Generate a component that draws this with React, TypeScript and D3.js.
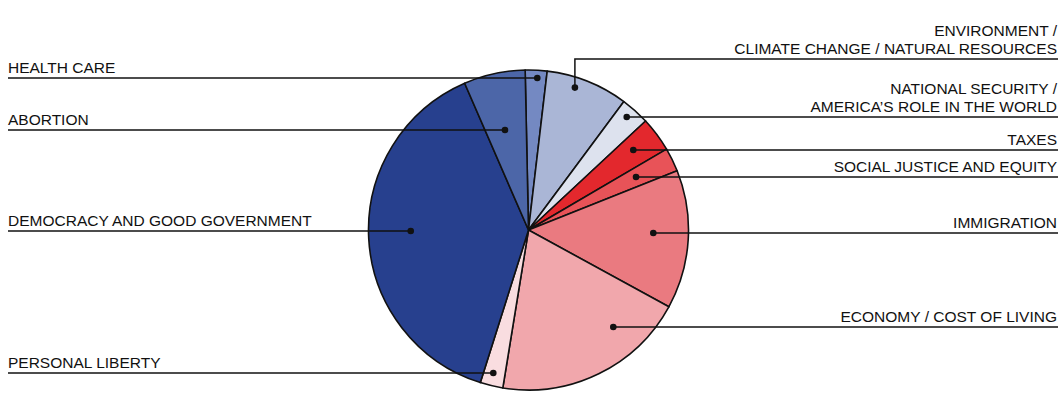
import React from "react";
import * as d3 from "d3";

const categories = [
  "HEALTH CARE",
  "ENVIRONMENT / CLIMATE CHANGE / NATURAL RESOURCES",
  "NATIONAL SECURITY / AMERICA’S ROLE IN THE WORLD",
  "TAXES",
  "SOCIAL JUSTICE AND EQUITY",
  "IMMIGRATION",
  "ECONOMY / COST OF LIVING",
  "PERSONAL LIBERTY",
  "DEMOCRACY AND GOOD GOVERNMENT",
  "ABORTION",
];
const values = [2.2, 8.3, 2.9, 3.5, 2.4, 14.0, 19.6, 2.3, 38.6, 6.2];
const colors = [
  "#7489c2",
  "#aab6d6",
  "#dde2ee",
  "#e3282d",
  "#e85358",
  "#ea7a80",
  "#f1a7ac",
  "#f9dde0",
  "#27408e",
  "#4c66a8",
];
const labelLines: string[][] = [
  ["HEALTH CARE"],
  ["ENVIRONMENT /", "CLIMATE CHANGE / NATURAL RESOURCES"],
  ["NATIONAL SECURITY /", "AMERICA’S ROLE IN THE WORLD"],
  ["TAXES"],
  ["SOCIAL JUSTICE AND EQUITY"],
  ["IMMIGRATION"],
  ["ECONOMY / COST OF LIVING"],
  ["PERSONAL LIBERTY"],
  ["DEMOCRACY AND GOOD GOVERNMENT"],
  ["ABORTION"],
];

// layout of the leaders (not data)
const labelSide = ["left", "right", "right", "right", "right", "right", "right", "left", "left", "left"];
const leaderY = [78, 59, 117, 150, 177, 233, 327, 373, 231, 130];
const dotXFrac = [0.055, 0.29, 0.614, 0.655, 0.672, 0.78, 0.53, -0.22, -0.736, -0.147];
const dotYFrac = [null, -0.89, null, null, null, null, null, null, null, null];

export default function App() {
  const W = 1063;
  const H = 417;
  const cx = 528.5;
  const cy = 230;
  const R = 160;
  const startAngle = (-1.2 * Math.PI) / 180;

  const pie = d3
    .pie<number>()
    .sort(null)
    .value((d) => d)
    .startAngle(startAngle)
    .endAngle(startAngle + 2 * Math.PI);
  const arcs = pie(values);
  const arcGen = d3.arc<d3.PieArcDatum<number>>().innerRadius(0).outerRadius(R);

  const font = "'Liberation Sans', Arial, Helvetica, sans-serif";

  return (
    <svg width={W} height={H} style={{ position: "absolute", left: 0, top: 0, background: "#fff" }}>
      <g transform={`translate(${cx},${cy})`}>
        {arcs.map((a, i) => (
          <path key={i} d={arcGen(a) || ""} fill={colors[i]} stroke="#111" strokeWidth={1.6} strokeLinejoin="round" />
        ))}
      </g>
      {arcs.map((a, i) => {
        const ly = leaderY[i];
        const side = labelSide[i];
        const lines = labelLines[i];
        const dx = cx + R * dotXFrac[i];
        const yf = dotYFrac[i];
        const dy = yf == null ? ly : cy + R * yf;
        let path: string;
        if (yf != null) {
          path = `M${dx},${dy}V${ly}H1058`;
        } else {
          path = side === "left" ? `M8,${ly}H${dx}` : `M${dx},${ly}H1058`;
        }
        const n = lines.length;
        return (
          <g key={i}>
            <path d={path} fill="none" stroke="#111" strokeWidth={1.5} />
            <circle cx={dx} cy={dy} r={3.3} fill="#111" />
            {lines.map((t, j) => (
              <text
                key={j}
                x={side === "left" ? 8 : 1057}
                y={ly - 5 - (n - 1 - j) * 18}
                textAnchor={side === "left" ? "start" : "end"}
                fontFamily={font}
                fontSize={15.5}
                fill="#111"
              >
                {t}
              </text>
            ))}
          </g>
        );
      })}
    </svg>
  );
}
